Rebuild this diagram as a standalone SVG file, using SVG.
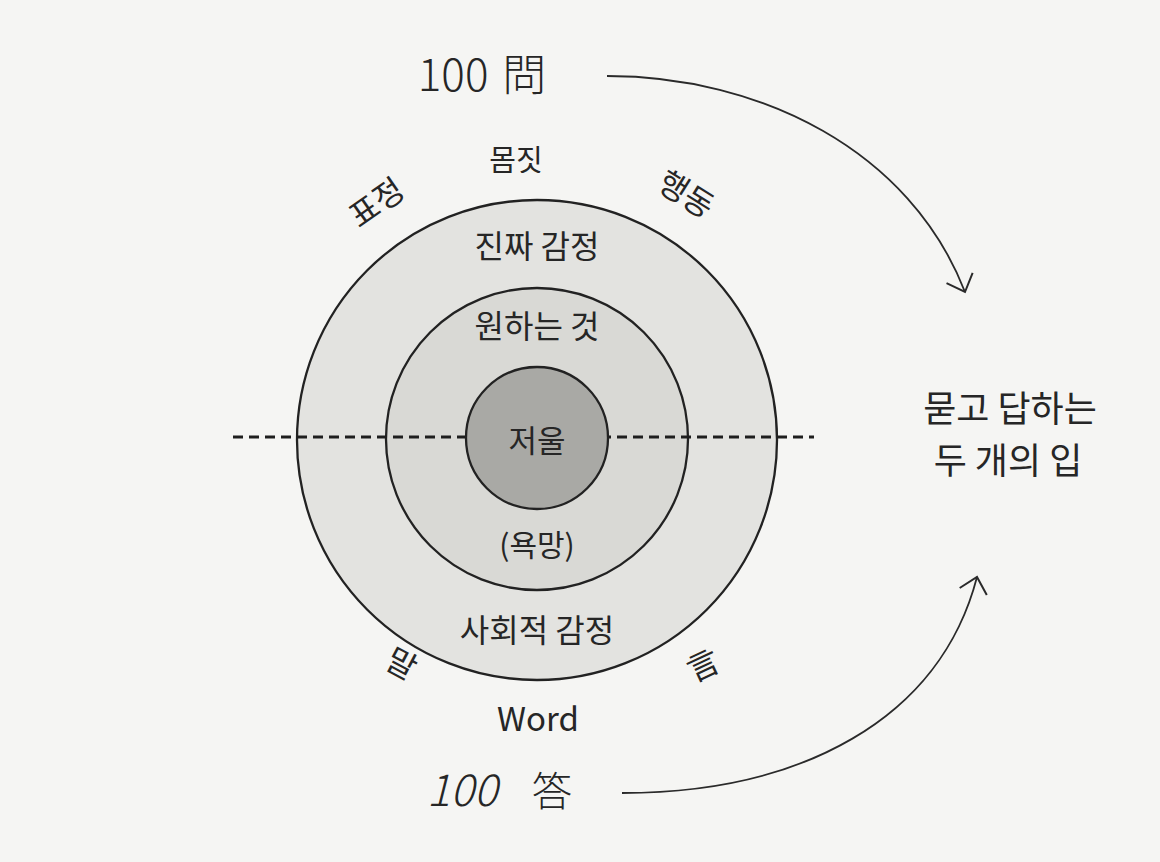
<svg xmlns="http://www.w3.org/2000/svg" width="1160" height="862" viewBox="0 0 1160 862">
  <style>
    .t { font-family: "Noto Sans CJK KR", "Noto Sans", sans-serif; fill: #262626; text-anchor: middle; }
    .ring { stroke: #222; stroke-width: 2.3; }
    .conn { fill: none; stroke: #2a2a2a; stroke-width: 1.8; }
  </style>
  <defs>
    <marker id="vhead" markerUnits="userSpaceOnUse" markerWidth="40" markerHeight="40" viewBox="-20 -20 40 40" refX="0" refY="0" orient="auto">
      <path d="M-15,-14 L0,0 L-15,14" fill="none" stroke="#2a2a2a" stroke-width="2"/>
    </marker>
  </defs>
  <rect x="0" y="0" width="1160" height="862" fill="#f5f5f3"/>

  <g id="rings">
    <circle id="outer" class="ring" cx="537" cy="440" r="240" fill="#e3e3e0"/>
    <circle id="middle" class="ring" cx="537" cy="439" r="151" fill="#d9d9d5"/>
    <line x1="233" y1="437" x2="814" y2="437" stroke="#1e1e1e" stroke-width="3" stroke-dasharray="10 6"/>
    <circle id="inner" class="ring" cx="537" cy="438" r="71" fill="#a9a9a5"/>
  </g>

  <g id="connectors">
    <path class="conn" d="M607,76 C760,76 910,150 965,292" marker-end="url(#vhead)"/>
    <path class="conn" d="M622,793 C800,793 940,720 977,577" marker-end="url(#vhead)"/>
  </g>

  <g id="label-question"><text class="t" x="482" y="91" font-size="44" font-weight="300">100 <tspan dx="4">問</tspan></text></g>
  <g id="label-momjit"><text class="t" x="516" y="171" font-size="29">몸짓</text></g>
  <g id="label-pyojeong"><text class="t" x="0" y="0" font-size="32" transform="translate(383,212) rotate(-35)">표정</text></g>
  <g id="label-haengdong"><text class="t" x="0" y="0" font-size="32" transform="translate(680,204) rotate(32)">행동</text></g>
  <g id="label-real"><text class="t" x="537" y="258" font-size="32">진짜 감정</text></g>
  <g id="label-want"><text class="t" x="537" y="338" font-size="32">원하는 것</text></g>
  <g id="label-scale"><text class="t" x="537" y="452" font-size="31">저울</text></g>
  <g id="label-desire"><text class="t" x="537" y="556" font-size="30">(욕망)</text></g>
  <g id="label-social"><text class="t" x="537" y="642" font-size="32">사회적 감정</text></g>
  <g id="label-mal"><text class="t" x="0" y="0" font-size="32" transform="translate(396,674) rotate(28)">말</text></g>
  <g id="label-eon"><text class="t" x="0" y="0" font-size="32" transform="translate(708,676) rotate(-25)">言</text></g>
  <g id="label-word"><text class="t" x="538" y="731" font-size="33">Word</text></g>
  <g id="label-answer">
    <text class="t" x="462" y="806" font-size="44" font-weight="300" font-style="italic">100</text>
    <text class="t" x="552" y="806" font-size="40" font-weight="300">答</text>
  </g>
  <g id="label-mouths">
    <text class="t" x="1010" y="422" font-size="36">묻고 답하는</text>
    <text class="t" x="1008" y="474" font-size="36">두 개의 입</text>
  </g>
</svg>
